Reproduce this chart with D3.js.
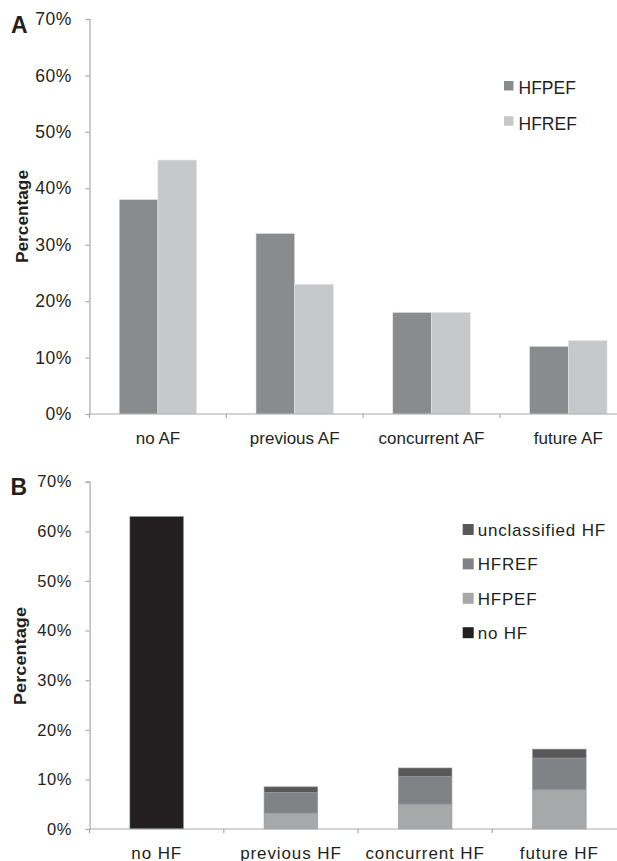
<!DOCTYPE html>
<html>
<head>
<meta charset="utf-8">
<script src="https://cdn.jsdelivr.net/npm/d3@7"></script>
<style>
  html, body { margin: 0; padding: 0; background: #fff; }
  svg { display: block; font-family: "Liberation Sans", Arial, sans-serif; }
</style>
</head>
<body>
<svg id="chart" width="617" height="861"></svg>
<script>
// Panel A: timing of AF, split by HF type
const afCategories = ["no AF", "previous AF", "concurrent AF", "future AF"];
const afSeries = ["HFPEF", "HFREF"];
const afHFPEF = [38, 32, 18, 12];
const afHFREF = [45, 23, 18, 13];

// Panel B: timing of HF, stacked by HF type
const hfCategories = ["no HF", "previous HF", "concurrent HF", "future HF"];
const hfNoHF        = [63, 0, 0, 0];
const hfHFPEF       = [0, 3.2, 5.0, 7.9];
const hfHFREF       = [0, 4.2, 5.6, 6.4];
const hfUnclassified = [0, 1.1, 1.7, 1.8];
const hfStackKeys = ["no HF", "HFPEF", "HFREF", "unclassified HF"];
const hfLegendOrder = ["unclassified HF", "HFREF", "HFPEF", "no HF"];

const yTicks = [0, 10, 20, 30, 40, 50, 60, 70];

const svg = d3.select("#chart");
const axisColor = "#a9a9ab";
const textColor = "#231f20";
const pct = d => d + "%";

// ---------- Panel A ----------
const afColors = d3.scaleOrdinal().domain(afSeries).range(["#8a8b8e", "#c7c8ca"]);
const yA = d3.scaleLinear().domain([0, 70]).range([414, 19]);
const x0A = d3.scaleBand().domain(afCategories)
  .range([89.5, 89.5 + 4 * 136.8]).paddingInner(0.434).paddingOuter(0.217);
const x1A = d3.scaleBand().domain(afSeries).range([0, x0A.bandwidth()]);

const afRows = afCategories.map((c, i) => ({ cat: c, HFPEF: afHFPEF[i], HFREF: afHFREF[i] }));

const gA = svg.append("g");
gA.append("g").selectAll("g").data(afRows).join("g")
  .attr("transform", d => `translate(${x0A(d.cat)},0)`)
  .selectAll("rect").data(d => afSeries.map(k => ({ key: k, value: d[k] }))).join("rect")
  .attr("x", d => x1A(d.key))
  .attr("width", x1A.bandwidth())
  .attr("y", d => yA(d.value))
  .attr("height", d => yA(0) - yA(d.value))
  .attr("fill", d => afColors(d.key))
  .attr("stroke", "#e4e4e5").attr("stroke-width", 0.6);

function drawYAxis(g, y, x, fontSize, spacing) {
  const ax = g.append("g").attr("transform", `translate(${x},0)`)
    .call(d3.axisLeft(y).tickValues(yTicks).tickFormat(pct).tickSize(4).tickPadding(13.5));
  ax.select(".domain").attr("stroke", axisColor).attr("stroke-width", 1.2);
  ax.selectAll(".tick line").attr("stroke", axisColor).attr("stroke-width", 1.2);
  ax.selectAll(".tick text").attr("fill", textColor)
    .style("font-size", fontSize + "px").style("letter-spacing", spacing + "px")
    .style("font-family", '"Liberation Sans", Arial, sans-serif');
  return ax;
}

function drawXAxis(g, x0, y0, labelY, fontSize, spacing) {
  const [r0] = x0.range();
  const step = x0.step();
  const n = x0.domain().length;
  g.append("line").attr("x1", r0).attr("x2", 617).attr("y1", y0).attr("y2", y0)
    .attr("stroke", axisColor).attr("stroke-width", 1.2);
  g.append("g").selectAll("line").data(d3.range(n)).join("line")
    .attr("x1", i => r0 + i * step).attr("x2", i => r0 + i * step)
    .attr("y1", y0).attr("y2", y0 + 4)
    .attr("stroke", axisColor).attr("stroke-width", 1.2);
  g.append("g").selectAll("text").data(x0.domain()).join("text")
    .attr("x", d => x0(d) + x0.bandwidth() / 2)
    .attr("y", labelY)
    .attr("text-anchor", "middle")
    .attr("fill", textColor)
    .style("font-size", fontSize + "px")
    .style("letter-spacing", spacing + "px")
    .text(d => d);
}

drawYAxis(gA, yA, 89.5, 17.5, 0.6);
drawXAxis(gA, x0A, 414, 443.5, 17, 0);

gA.append("text").attr("x", 11).attr("y", 32.5)
  .attr("font-weight", "bold").style("font-size", "23px").attr("fill", textColor).text("A");
gA.append("text")
  .attr("transform", "translate(27.5,216.5) rotate(-90)")
  .attr("text-anchor", "middle").attr("font-weight", "bold")
  .style("font-size", "16.5px").attr("fill", textColor)
  .attr("textLength", 93).attr("lengthAdjust", "spacingAndGlyphs")
  .text("Percentage");

const legA = gA.append("g").selectAll("g").data(afSeries).join("g")
  .attr("transform", (d, i) => `translate(504,${81 + i * 35.3})`);
legA.append("rect").attr("width", 9.5).attr("height", 9.5).attr("fill", d => afColors(d));
legA.append("text").attr("x", 14.5).attr("y", 13.3)
  .attr("fill", textColor).style("font-size", "17.5px").text(d => d);

// ---------- Panel B ----------
const hfColors = d3.scaleOrdinal().domain(hfStackKeys)
  .range(["#231f20", "#a7a8aa", "#818285", "#58585a"]);
const yB = d3.scaleLinear().domain([0, 70]).range([829, 481.7]);
const x0B = d3.scaleBand().domain(hfCategories)
  .range([89.6, 89.6 + 4 * 134.2]).paddingInner(0.6).paddingOuter(0.3);

const hfRows = hfCategories.map((c, i) => ({
  cat: c,
  "no HF": hfNoHF[i],
  "HFPEF": hfHFPEF[i],
  "HFREF": hfHFREF[i],
  "unclassified HF": hfUnclassified[i]
}));
const stacked = d3.stack().keys(hfStackKeys)(hfRows);

const gB = svg.append("g");
gB.append("g").selectAll("g").data(stacked).join("g")
  .attr("fill", d => hfColors(d.key))
  .selectAll("rect").data(d => d.filter(p => p[1] - p[0] > 0)).join("rect")
  .attr("x", d => x0B(d.data.cat))
  .attr("width", x0B.bandwidth())
  .attr("y", d => yB(d[1]))
  .attr("height", d => yB(d[0]) - yB(d[1]))
  .attr("stroke", "#9c9c9e").attr("stroke-width", 0.6);

drawYAxis(gB, yB, 89.6, 16.5, 0.6);
drawXAxis(gB, x0B, 829, 858.5, 17, 0.9);

gB.append("text").attr("x", 10.5).attr("y", 494.5)
  .attr("font-weight", "bold").style("font-size", "23px").attr("fill", textColor).text("B");
gB.append("text")
  .attr("transform", "translate(25.5,656) rotate(-90)")
  .attr("text-anchor", "middle").attr("font-weight", "bold")
  .style("font-size", "16.5px").attr("fill", textColor)
  .attr("textLength", 98).attr("lengthAdjust", "spacingAndGlyphs")
  .text("Percentage");

const legB = gB.append("g").selectAll("g").data(hfLegendOrder).join("g")
  .attr("transform", (d, i) => `translate(462.7,${524 + i * 34.4})`);
legB.append("rect").attr("width", 11).attr("height", 11).attr("fill", d => hfColors(d));
legB.append("text").attr("x", 15).attr("y", 11.7)
  .attr("fill", textColor).style("font-size", "17px").style("letter-spacing", "0.8px")
  .text(d => d);
</script>
</body>
</html>
